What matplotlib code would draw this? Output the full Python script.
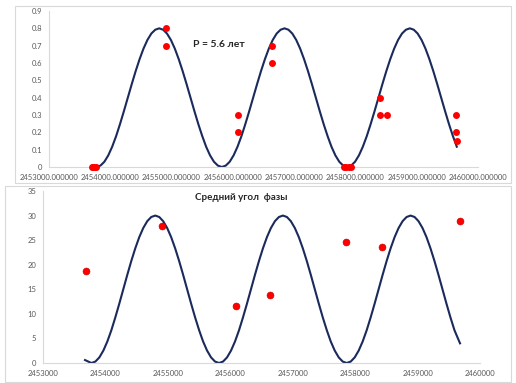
import matplotlib
matplotlib.use("Agg")
import matplotlib.pyplot as plt
from matplotlib.patches import Rectangle
from matplotlib.ticker import FuncFormatter, MultipleLocator

plt.rcParams['font.family'] = ['Lato', 'DejaVu Sans']

# fitted curve (JD, value)
curve_jd = [2453775, 2453839, 2453903, 2453967, 2454031, 2454095, 2454158, 2454222,
            2454286, 2454350, 2454414, 2454478, 2454542, 2454606, 2454670, 2454734,
            2454798, 2454862, 2454925, 2454989, 2455053, 2455117, 2455181, 2455245,
            2455309, 2455373, 2455437, 2455501, 2455564, 2455628, 2455692, 2455756,
            2455820, 2455884, 2455948, 2456012, 2456076, 2456140, 2456203, 2456267,
            2456331, 2456395, 2456459, 2456523, 2456587, 2456651, 2456715, 2456779,
            2456843, 2456907, 2456970, 2457034, 2457098, 2457162, 2457226, 2457290,
            2457354, 2457418, 2457482, 2457546, 2457609, 2457673, 2457737, 2457801,
            2457865, 2457929, 2457993, 2458057, 2458121, 2458185, 2458248, 2458312,
            2458376, 2458440, 2458504, 2458568, 2458632, 2458696, 2458760, 2458824,
            2458888, 2458952, 2459015, 2459079, 2459143, 2459207, 2459271, 2459335,
            2459399, 2459463, 2459527, 2459591, 2459654]

top_curve_val = [0, 0.008, 0.03, 0.067, 0.117, 0.178, 0.247, 0.322,
                 0.4, 0.478, 0.553, 0.622, 0.683, 0.733, 0.77, 0.792,
                 0.8, 0.792, 0.77, 0.733, 0.683, 0.622, 0.553, 0.478,
                 0.4, 0.322, 0.247, 0.178, 0.117, 0.067, 0.03, 0.008,
                 0, 0.008, 0.03, 0.067, 0.117, 0.178, 0.247, 0.322,
                 0.4, 0.478, 0.553, 0.622, 0.683, 0.733, 0.77, 0.792,
                 0.8, 0.792, 0.77, 0.733, 0.683, 0.622, 0.553, 0.478,
                 0.4, 0.322, 0.247, 0.178, 0.117, 0.067, 0.03, 0.008,
                 0, 0.008, 0.03, 0.067, 0.117, 0.178, 0.247, 0.322,
                 0.4, 0.478, 0.553, 0.622, 0.683, 0.733, 0.77, 0.792,
                 0.8, 0.792, 0.77, 0.733, 0.683, 0.622, 0.553, 0.478,
                 0.4, 0.322, 0.247, 0.178, 0.117]

top_pts_jd = [2453695, 2453722, 2453750, 2453775, 2454909, 2454909, 2456078, 2456078,
              2456633, 2456633, 2457806, 2457850, 2457893, 2457935, 2458405, 2458405,
              2458514, 2459645, 2459645, 2459650]
top_pts_val = [0, 0, 0, 0, 0.8, 0.7, 0.3, 0.2, 0.7, 0.6, 0, 0, 0, 0, 0.4, 0.3, 0.3,
               0.3, 0.2, 0.15]

bot_curve_jd = [2453673] + curve_jd[:92] + [2459680]
bot_curve_val = [0.6,
                 0, 0.29, 1.14, 2.53, 4.39, 6.67, 9.26, 12.07,
                 15, 17.93, 20.74, 23.33, 25.61, 27.47, 28.86, 29.71,
                 30, 29.71, 28.86, 27.47, 25.61, 23.33, 20.74, 17.93,
                 15, 12.07, 9.26, 6.67, 4.39, 2.53, 1.14, 0.29,
                 0, 0.29, 1.14, 2.53, 4.39, 6.67, 9.26, 12.07,
                 15, 17.93, 20.74, 23.33, 25.61, 27.47, 28.86, 29.71,
                 30, 29.71, 28.86, 27.47, 25.61, 23.33, 20.74, 17.93,
                 15, 12.07, 9.26, 6.67, 4.39, 2.53, 1.14, 0.29,
                 0, 0.29, 1.14, 2.53, 4.39, 6.67, 9.26, 12.07,
                 15, 17.93, 20.74, 23.33, 25.61, 27.47, 28.86, 29.71,
                 30, 29.71, 28.86, 27.47, 25.61, 23.33, 20.74, 17.93,
                 15, 12.07, 9.26, 6.67,
                 4.0]

bot_pts_jd = [2453684, 2454912, 2456088, 2456643, 2457856, 2458428, 2459683]
bot_pts_val = [18.7, 27.9, 11.7, 13.8, 24.6, 23.7, 28.8]

W, H = 516, 383
navy = '#1b2a5c'
grey_txt = '#595959'
grey_line = '#d9d9d9'

fig = plt.figure(figsize=(W / 100, H / 100), dpi=100)

# chart frames
fig.patches.append(Rectangle((15 / W, 1 - 183 / H), 496 / W, 177 / H, transform=fig.transFigure,
                             fill=False, edgecolor=grey_line, linewidth=0.8))
fig.patches.append(Rectangle((5 / W, 1 - 382 / H), 506 / W, 196 / H, transform=fig.transFigure,
                             fill=False, edgecolor=grey_line, linewidth=0.8))

ax1 = fig.add_axes([49 / W, 1 - 167 / H, 429 / W, 156 / H])
ax2 = fig.add_axes([43 / W, 1 - 363 / H, 437 / W, 172 / H])

ax1.plot(curve_jd, top_curve_val, color=navy, linewidth=1.5, zorder=2)
ax1.plot(top_pts_jd, top_pts_val, 'o', color='red', markersize=5, markeredgewidth=0, zorder=3)
ax1.set_xlim(2453000, 2460000)
ax1.set_ylim(0, 0.9)
ax1.yaxis.set_major_locator(MultipleLocator(0.1))
ax1.xaxis.set_major_locator(MultipleLocator(1000))
ax1.xaxis.set_major_formatter(FuncFormatter(lambda v, p: '%.6f' % v))
ax1.yaxis.set_major_formatter(FuncFormatter(lambda v, p: '%g' % round(v, 1)))
ax1.text(2455773, 0.705, 'P = 5.6 лет', fontsize=7.5, fontweight='bold',
         color='#262626', ha='center', va='center')

ax2.plot(bot_curve_jd, bot_curve_val, color=navy, linewidth=1.5, zorder=2)
ax2.plot(bot_pts_jd, bot_pts_val, 'o', color='red', markersize=5,
         markeredgecolor='#c00000', markeredgewidth=0.4, zorder=3)
ax2.set_xlim(2453000, 2460000)
ax2.set_ylim(0, 35)
ax2.yaxis.set_major_locator(MultipleLocator(5))
ax2.xaxis.set_major_locator(MultipleLocator(1000))
ax2.xaxis.set_major_formatter(FuncFormatter(lambda v, p: '%d' % v))
fig.text(241 / W, 1 - 198 / H, 'Средний угол  фазы', fontsize=7, fontweight='bold',
         color='#262626', ha='center', va='center')

for ax in (ax1, ax2):
    ax.set_facecolor('none')
    ax.spines['top'].set_visible(False)
    ax.spines['right'].set_visible(False)
    ax.spines['left'].set_color(grey_line)
    ax.spines['bottom'].set_color(grey_line)
    ax.tick_params(length=0, labelsize=5.5, labelcolor=grey_txt)
    ax.tick_params(axis='y', pad=5)
    ax.tick_params(axis='x', pad=5)
    for c in ax.lines:
        c.set_clip_on(False)

fig.savefig('out.png', dpi=100)
